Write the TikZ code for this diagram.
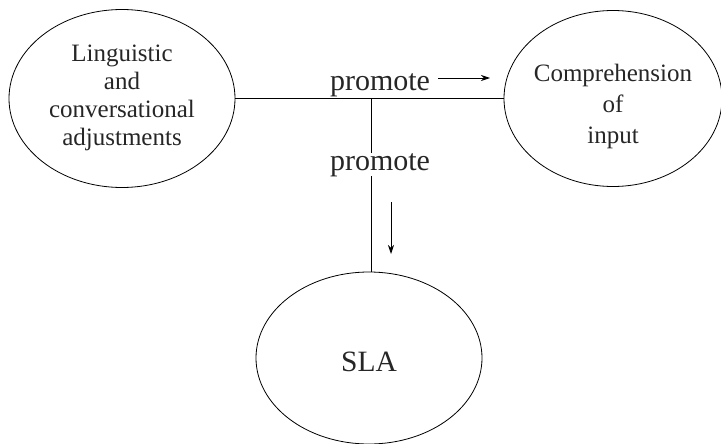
\documentclass[tikz,border=0pt]{standalone}
\usepackage{fontspec}
\setmainfont{Liberation Serif}
\usetikzlibrary{shapes.geometric,arrows.meta}
\begin{document}
\begin{tikzpicture}[x=1pt,y=-1pt,
  oval/.style={draw,ellipse,line width=0.8pt,inner sep=0pt},
  lbl/.style={align=center,inner sep=0pt,text=black!85},
  conn/.style={line width=0.8pt},
  arr/.style={line width=0.8pt,-{Stealth[length=9pt,width=6pt]}}]
\useasboundingbox (0,0) rectangle (721,444);
\node[oval,minimum width=226pt,minimum height=178pt] (L) at (122,98.5) {};
\node[oval,minimum width=218pt,minimum height=176pt] (R) at (613,98.5) {};
\node[oval,minimum width=226pt,minimum height=172pt] (S) at (369,358) {};
\node[lbl,font=\fontsize{25}{28}\selectfont] (lt) at (122,98) {Linguistic\\and\\conversational\\adjustments};
\node[lbl,font=\fontsize{25}{31}\selectfont] (rt) at (613,106) {Comprehension\\of\\input};
\node[lbl,font=\fontsize{29.5}{32}\selectfont] (st) at (369,362) {SLA};
\coordinate (j) at (371,98.5);
\draw[conn] (L.east) -- (R.west);
\draw[conn] (j) -- (j |- S.north);
\node[lbl,anchor=base,font=\fontsize{30}{32}\selectfont] (p1) at (380,91) {promote};
\node[lbl,anchor=base,fill=white,font=\fontsize{30}{32}\selectfont] (p2) at (380,170) {promote};
\coordinate (a1s) at (438,78);
\coordinate (a1e) at (490,78);
\coordinate (a2s) at (391,202);
\coordinate (a2e) at (391,254);
\draw[arr] (a1s) -- (a1e);
\draw[arr] (a2s) -- (a2e);
\end{tikzpicture}
\end{document}
